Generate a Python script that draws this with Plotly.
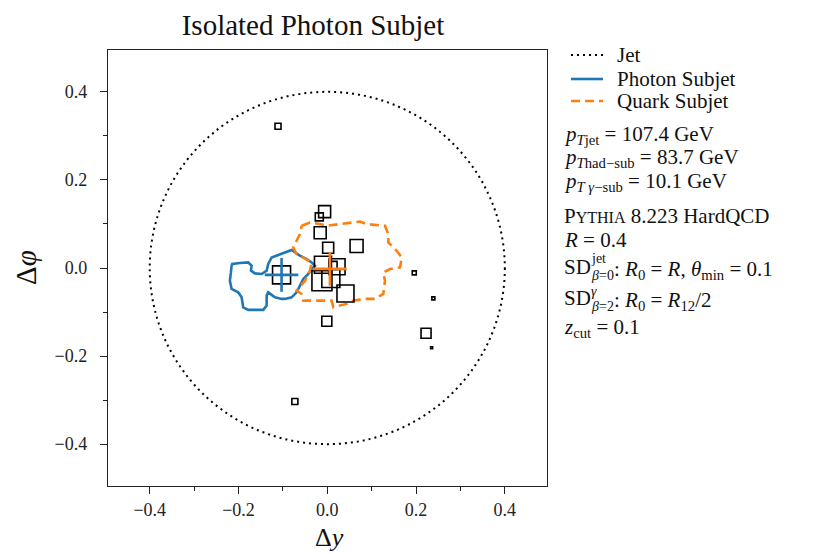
import plotly.graph_objects as go

# ---------------- data ----------------
jet_R = 0.4

photon_x = [-0.2156, -0.2142, -0.1968, -0.1781, -0.1705, -0.172, -0.163, -0.1479, -0.1366,
            -0.133, -0.1254, -0.1105, -0.0915, -0.0803, -0.0616, -0.0464, -0.0352, -0.0277,
            -0.0352, -0.0428, -0.0541, -0.0616, -0.069, -0.0803, -0.0954, -0.1028, -0.1179,
            -0.133, -0.1366, -0.1366, -0.1443, -0.1781, -0.1894, -0.193, -0.2007, -0.2156,
            -0.2194, -0.2171, -0.2156]
photon_y = [0.0052, 0.0091, 0.0113, 0.0127, 0.0052, -0.0061, -0.0122, -0.0136, -0.0061,
            0.0091, 0.024, 0.0301, 0.0376, 0.0408, 0.0279, 0.0204, 0.0127, 0.0052,
            -0.0023, -0.0136, -0.0249, -0.0401, -0.0553, -0.0666, -0.0702, -0.0702, -0.0666,
            -0.0553, -0.0627, -0.0854, -0.0951, -0.0951, -0.0892, -0.0666, -0.0553, -0.0476,
            -0.0288, -0.01, 0.0052]

quark_x = [-0.0577, -0.039, -0.0165, -0.0014, 0.0286, 0.0511, 0.0737, 0.0888, 0.130, 0.1375,
           0.1375, 0.1565, 0.1678, 0.164, 0.1414, 0.1263, 0.130, 0.1263, 0.1076, 0.0888,
           0.0586, 0.0437, 0.0135, 0.0099, -0.0165, -0.054, -0.0577, -0.069, -0.0503,
           -0.039, -0.0352, -0.054, -0.069, -0.0767, -0.069, -0.0616, -0.0577]
quark_y = [0.0958, 0.1033, 0.0997, 0.0958, 0.0997, 0.1033, 0.1055, 0.0997, 0.0958, 0.077,
           0.058, 0.039, 0.024, 0.0014, -0.0023, -0.0106, -0.0288, -0.0589, -0.070, -0.070,
           -0.074, -0.0815, -0.089, -0.074, -0.074, -0.074, -0.0589, -0.0514, -0.0288,
           -0.006, 0.0127, 0.024, 0.0317, 0.0467, 0.0618, 0.077, 0.0958]

particle_x = [-0.111, -0.073, -0.018, -0.006, -0.016, 0.066, 0.002, -0.0097, 0.022, 0.013,
              -0.012, 0.008, 0.041, -0.001, -0.103, 0.196, 0.239, 0.2225, 0.235]
particle_y = [0.322, -0.303, 0.116, 0.128, 0.080, 0.050, 0.046, 0.0075, 0.003, 0.006,
              -0.029, -0.024, -0.058, -0.121, -0.0156, -0.011, -0.069, -0.148, -0.181]
particle_size = [6, 6, 8, 12, 12, 13, 11, 17, 16, 8,
                 20, 18, 17, 10, 18, 4, 3, 10, 2]

photon_axis = (-0.103, -0.0156)
quark_axis = (0.006, -0.002)

tick_vals = [-0.4, -0.2, 0.0, 0.2, 0.4]
tick_text = ["\u22120.4", "\u22120.2", "0.0", "0.2", "0.4"]

legend_names = ["Jet", "Photon Subjet", "Quark Subjet"]

BLUE = "#1f77b4"
ORANGE = "#ff7f0e"
FONT = "Liberation Serif"
TXT = "#111"

# ---------------- layout geometry (page has an 8px body margin) ----------------
OFF = 8
W, H = 805, 546
L, T = 100, 42
PW, PH = 439, 436
R_ = W - L - PW
B = H - T - PH


def xp(px):
    return (px - OFF - L) / PW


def yp(py):
    return (H - B - (py - OFF)) / PH


fig = go.Figure()

fig.add_trace(go.Scatter(x=photon_x, y=photon_y, mode="lines", name=legend_names[1],
                         showlegend=False, line=dict(color=BLUE, width=2.6)))
fig.add_trace(go.Scatter(x=quark_x, y=quark_y, mode="lines", name=legend_names[2],
                         showlegend=False, line=dict(color=ORANGE, width=2.6, dash="9px,5px")))
fig.add_trace(go.Scatter(x=particle_x, y=particle_y, mode="markers", showlegend=False,
                         marker=dict(symbol="square-open", size=particle_size, opacity=1,
                                     color="#000", line=dict(color="#000", width=1.6))))
fig.add_trace(go.Scatter(x=[photon_axis[0]], y=[photon_axis[1]], mode="markers", showlegend=False,
                         marker=dict(symbol="cross-thin", size=24,
                                     line=dict(color=BLUE, width=2.6))))
fig.add_trace(go.Scatter(x=[quark_axis[0]], y=[quark_axis[1]], mode="markers", showlegend=False,
                         marker=dict(symbol="cross-thin", size=24,
                                     line=dict(color=ORANGE, width=2.6))))

fig.add_shape(type="circle", xref="x", yref="y", x0=-jet_R, x1=jet_R, y0=-jet_R, y1=jet_R,
              line=dict(color="black", width=2, dash="2px,4px"))

axis_common = dict(
    tickvals=tick_vals, ticktext=tick_text, ticks="outside", ticklen=7, tickwidth=1.2,
    tickcolor="#222", showline=True, linecolor="#222", linewidth=1.4, mirror=True,
    showgrid=False, zeroline=False, tickfont=dict(family=FONT, size=18, color="#222"),
    minor=dict(tickvals=[-0.3, -0.1, 0.1, 0.3], ticks="outside", ticklen=4,
               tickwidth=1.1, tickcolor="#222"),
)

fig.update_xaxes(range=[-0.494, 0.495], ticklabelstandoff=0, **axis_common)
fig.update_yaxes(range=[-0.495, 0.495], ticklabelstandoff=9, **axis_common)

ann = []


def add_text(text, px, py, size=21, anchor="left", yanchor="middle", **kw):
    ann.append(dict(text=text, x=xp(px), y=yp(py), xref="paper", yref="paper",
                    xanchor=anchor, yanchor=yanchor, showarrow=False, borderpad=0,
                    font=dict(family=FONT, size=size, color=TXT), **kw))


# manual legend
legend_y = [55, 79, 101]
legend_styles = [dict(color="black", width=2, dash="2px,4px"),
                 dict(color=BLUE, width=2.6),
                 dict(color=ORANGE, width=2.6, dash="9px,5px")]
for name, ly, st in zip(legend_names, legend_y, legend_styles):
    fig.add_shape(type="line", xref="paper", yref="paper", x0=xp(571), x1=xp(603),
                  y0=yp(ly), y1=yp(ly), line=st)
    add_text(name, 616, ly)

# axis titles
add_text("\u0394<i>y</i>", 329, 553, size=26, anchor="center", yanchor="bottom")
add_text("\u0394<i>\u03c6</i>", 26, 268, size=29, anchor="center", textangle=-90)

# info block
add_text("<i>p</i><sub><i>T</i>jet</sub> = 107.4 GeV", 563, 135)
add_text("<i>p</i><sub><i>T</i>had\u2212sub</sub> = 83.7 GeV", 563, 158)
add_text("<i>p</i><sub><i>T</i> <i>\u03b3</i>\u2212sub</sub> = 10.1 GeV", 563, 182)
add_text("P<span style='font-size:16px'>YTHIA</span> 8.223 HardQCD", 563, 216)
add_text("<i>R</i> = 0.4", 563, 240)
add_text("SD", 563, 267)
add_text("jet", 590, 259, size=14)
add_text("<i>\u03b2</i>=0", 590, 275, size=14)
add_text(": <i>R</i><sub>0</sub> = <i>R</i>, <i>\u03b8</i><sub>min</sub> = 0.1", 613, 270)
add_text("SD", 563, 298)
add_text("<i>\u03b3</i>", 590, 291, size=14)
add_text("<i>\u03b2</i>=2", 590, 306, size=14)
add_text(": <i>R</i><sub>0</sub> = <i>R</i><sub>12</sub>/2", 613, 301)
add_text("<i>z</i><sub>cut</sub> = 0.1", 563, 328)

fig.update_layout(
    width=W, height=H,
    margin=dict(l=L, r=R_, t=T, b=B, autoexpand=False),
    paper_bgcolor="white", plot_bgcolor="white",
    title=dict(text="Isolated Photon Subjet", x=xp(313), xanchor="center",
               y=1 - (25 - OFF) / H, yanchor="middle", xref="paper",
               font=dict(family=FONT, size=29, color=TXT)),
    annotations=ann,
    showlegend=False,
)

fig.write_html("out.html")
